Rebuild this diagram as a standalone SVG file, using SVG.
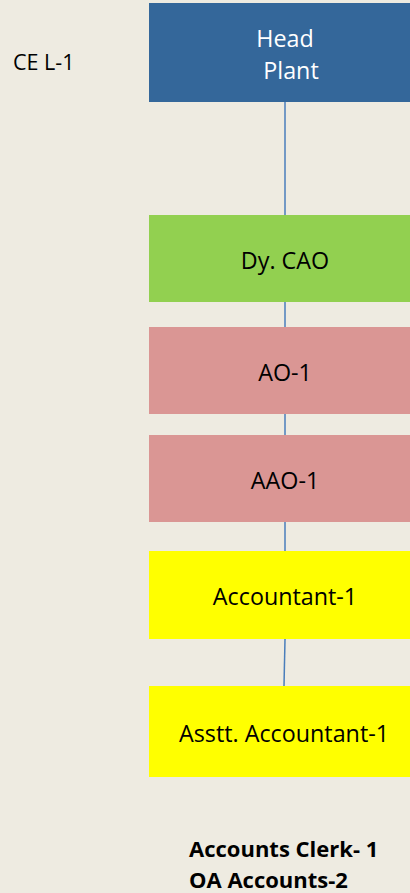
<svg xmlns="http://www.w3.org/2000/svg" width="410" height="893" viewBox="0 0 410 893">
<style>
.t{font-family:"Open Sans","Liberation Sans",sans-serif;font-size:23.3px;fill:#000;text-anchor:middle}
.s{font-family:"Open Sans","Liberation Sans",sans-serif;font-size:21.5px;fill:#000}
.w{fill:#fff}
.b{font-family:"Open Sans","Liberation Sans",sans-serif;font-size:22px;font-weight:bold;fill:#000}
.c{stroke:#4A7EBB;stroke-width:1.5;fill:none}
</style>
<rect width="410" height="893" fill="#EEEBE1"/>
<g id="connectors">
<line class="c" x1="285" y1="102" x2="285" y2="215"/>
<line class="c" x1="285" y1="302" x2="285" y2="327"/>
<line class="c" x1="285" y1="414" x2="285" y2="435"/>
<line class="c" x1="285" y1="522" x2="285" y2="551"/>
<line class="c" x1="285" y1="639" x2="284" y2="686"/>
</g>
<g id="label-ce"><text class="s" x="13" y="70">CE L-1</text></g>
<g id="head"><rect x="149" y="3" width="261" height="99" fill="#34679A"/>
<text class="t w" x="285" y="47">Head</text><text class="t w" x="291" y="79">Plant</text></g>
<g id="dycao"><rect x="149" y="215" width="261" height="87" fill="#92D050"/><text class="t" x="285" y="269">Dy. CAO</text></g>
<g id="ao1"><rect x="149" y="327" width="261" height="87" fill="#DA9694"/><text class="t" x="285" y="381">AO-1</text></g>
<g id="aao1"><rect x="149" y="435" width="261" height="87" fill="#DA9694"/><text class="t" x="285" y="489">AAO-1</text></g>
<g id="accountant"><rect x="149" y="551" width="261" height="88" fill="#FFFF00"/><text class="t" x="285" y="605">Accountant-1</text></g>
<g id="asstt"><rect x="149" y="686" width="261" height="91" fill="#FFFF00"/><text class="t" x="284" y="742">Asstt. Accountant-1</text></g>
<g id="clerks"><text class="b" x="189" y="857">Accounts Clerk- 1</text><text class="b" x="189" y="888">OA Accounts-2</text></g>
</svg>
